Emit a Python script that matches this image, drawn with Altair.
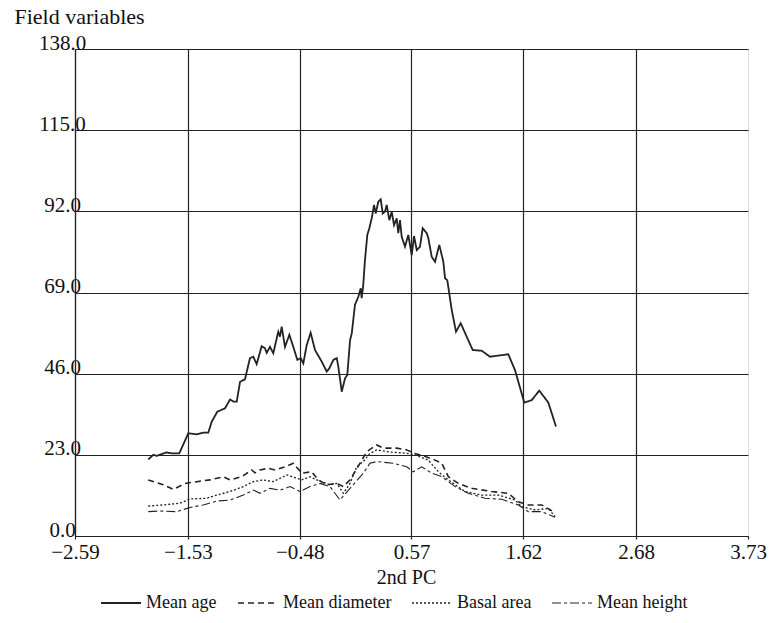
import altair as alt
import pandas as pd

series_names = ["Mean age", "Mean diameter", "Basal area", "Mean height"]

x_ticks = [-2.59, -1.53, -0.48, 0.57, 1.62, 2.68, 3.73]
y_ticks = [0.0, 23.0, 46.0, 69.0, 92.0, 115.0, 138.0]

age_x = [-1.902, -1.855, -1.823, -1.776, -1.729, -1.682, -1.611, -1.526, -1.447, -1.385,
         -1.338, -1.306, -1.254, -1.181, -1.134, -1.103, -1.071, -1.040, -0.994, -0.947,
         -0.916, -0.884, -0.837, -0.806, -0.790, -0.759, -0.728, -0.681, -0.665, -0.649,
         -0.618, -0.577, -0.540, -0.502, -0.470, -0.446, -0.414, -0.377, -0.336, -0.273,
         -0.226, -0.202, -0.164, -0.132, -0.117, -0.085, -0.054, -0.033, -0.007, 0.009,
         0.039, 0.071, 0.093, 0.102, 0.117, 0.133, 0.155, 0.174, 0.196, 0.218,
         0.234, 0.258, 0.281, 0.300, 0.321, 0.337, 0.362, 0.384, 0.406, 0.431,
         0.446, 0.462, 0.478, 0.509, 0.540, 0.572, 0.594, 0.619, 0.650, 0.675,
         0.713, 0.728, 0.760, 0.791, 0.831, 0.869, 0.885, 0.906, 0.948, 0.988,
         1.032, 1.088, 1.145, 1.229, 1.307, 1.479, 1.542, 1.629, 1.699, 1.770,
         1.855, 1.927]
age_y = [21.7, 23.0, 22.7, 23.2, 23.7, 23.4, 23.4, 29.1, 28.8, 29.3,
         29.3, 32.4, 35.2, 36.2, 38.7, 38.1, 38.1, 43.7, 44.4, 50.4,
         50.8, 48.7, 53.8, 53.2, 51.9, 53.6, 51.8, 57.9, 56.5, 59.3,
         53.6, 57.0, 53.6, 49.9, 50.4, 48.9, 54.1, 57.6, 52.7, 49.4,
         46.6, 47.5, 49.9, 50.4, 48.0, 40.9, 44.7, 45.6, 55.5, 57.4,
         65.5, 67.8, 70.2, 67.4, 71.1, 78.2, 85.3, 87.2, 90.0, 93.8,
         91.4, 94.7, 95.4, 91.4, 91.9, 93.8, 89.5, 91.9, 88.1, 90.0,
         85.8, 89.5, 84.8, 82.0, 85.3, 79.6, 85.0, 81.0, 82.0, 87.2,
         85.8, 84.4, 79.1, 77.7, 82.5, 77.7, 73.0, 72.5, 64.0, 57.9,
         60.3, 56.5, 52.7, 52.5, 50.8, 51.5, 47.0, 37.8, 38.5, 41.2,
         37.8, 31.0]

diam_x = [-1.902, -1.761, -1.667, -1.557, -1.447, -1.322, -1.197, -1.134, -1.025, -0.931,
          -0.900, -0.853, -0.775, -0.712, -0.618, -0.540, -0.461, -0.367, -0.305, -0.226,
          -0.132, -0.070, -0.007, 0.086, 0.149, 0.243, 0.305, 0.431, 0.525, 0.603,
          0.700, 0.791, 0.854, 0.916, 1.010, 1.135, 1.323, 1.479, 1.573, 1.667,
          1.793, 1.902]
diam_y = [15.9, 14.5, 13.2, 14.9, 15.4, 15.9, 16.8, 15.9, 16.8, 18.7,
          17.9, 18.7, 19.2, 18.7, 19.6, 20.6, 17.8, 18.2, 15.9, 14.5,
          14.9, 14.0, 15.9, 20.6, 23.9, 25.8, 24.9, 24.9, 24.4, 23.4,
          22.5, 21.5, 20.6, 16.8, 14.9, 13.5, 12.6, 12.1, 9.7, 8.8,
          8.8, 6.9]

ba_x = [-1.902, -1.761, -1.604, -1.510, -1.353, -1.259, -1.134, -1.009, -0.916, -0.822,
        -0.728, -0.602, -0.508, -0.461, -0.383, -0.320, -0.195, -0.132, -0.070, -0.007,
        0.055, 0.117, 0.180, 0.243, 0.368, 0.509, 0.603, 0.728, 0.822, 0.916,
        1.072, 1.229, 1.385, 1.542, 1.605, 1.730, 1.855, 1.918]
ba_y = [8.5, 8.8, 9.3, 10.5, 10.7, 11.6, 12.6, 14.0, 15.4, 15.9,
        15.4, 17.3, 16.4, 15.9, 16.8, 15.9, 14.5, 14.9, 12.1, 14.9,
        19.6, 21.1, 23.4, 24.4, 23.8, 23.5, 23.0, 21.5, 18.2, 15.9,
        12.6, 11.6, 11.6, 10.2, 8.3, 7.4, 7.8, 5.5]

ht_x = [-1.902, -1.792, -1.635, -1.510, -1.385, -1.259, -1.134, -1.009, -0.916, -0.853,
        -0.759, -0.665, -0.571, -0.477, -0.383, -0.289, -0.195, -0.101, -0.007, 0.117,
        0.180, 0.243, 0.399, 0.525, 0.587, 0.666, 0.760, 0.854, 0.979, 1.103,
        1.260, 1.417, 1.573, 1.667, 1.793, 1.918]
ht_y = [6.9, 7.1, 6.9, 8.1, 8.8, 9.9, 10.2, 11.6, 13.0, 12.1,
        13.5, 13.0, 14.0, 12.6, 14.0, 14.9, 14.0, 10.2, 13.5, 17.8,
        20.6, 21.1, 20.6, 19.6, 18.2, 19.6, 17.8, 16.8, 14.0, 12.1,
        10.7, 10.4, 8.8, 6.9, 6.9, 5.3]

frames = []
for name, xs, ys in [("Mean age", age_x, age_y), ("Mean diameter", diam_x, diam_y),
                     ("Basal area", ba_x, ba_y), ("Mean height", ht_x, ht_y)]:
    frames.append(pd.DataFrame({"pc": xs, "value": ys, "series": name}))
df = pd.concat(frames, ignore_index=True)

FONT = "Liberation Serif"
INK = "#222222"

chart = alt.Chart(df).mark_line(color=INK).encode(
    x=alt.X("pc:Q",
            scale=alt.Scale(domain=[-2.59, 3.73], nice=False, zero=False),
            axis=alt.Axis(values=x_ticks, format=".2f", grid=True,
                          gridColor=INK, gridWidth=1.2,
                          gridOpacity={"condition": {"test": "datum.value > 3.7", "value": 0}, "value": 1},
                          domainColor=INK, domainWidth=1.2,
                          tickColor=INK, tickSize=3, tickWidth=1.2,
                          labelFont=FONT, labelFontSize=21, labelColor="#111",
                          labelBaseline="alphabetic", labelPadding=19,
                          labelFlush=False, labelOverlap=False,
                          title="2nd PC", titleFont=FONT, titleFontSize=20,
                          titleFontWeight="normal", titleColor="#111",
                          titleX=331, titleY=47, titleBaseline="alphabetic",
                          titleAlign="center")),
    y=alt.Y("value:Q",
            scale=alt.Scale(domain=[0, 138], nice=False, zero=True),
            axis=alt.Axis(values=y_ticks, format=".1f", grid=True,
                          gridColor=INK, gridWidth=1.2,
                          domainColor=INK, domainWidth=1.2,
                          tickSize=0,
                          labelFont=FONT, labelFontSize=21, labelColor="#111",
                          labelAlign="center", labelBaseline="alphabetic",
                          labelPadding=13, labelOverlap=False,
                          title="Field variables", titleFont=FONT, titleFontSize=22,
                          titleFontWeight="normal", titleColor="#111",
                          titleAngle=0, titleAlign="left", titleBaseline="alphabetic",
                          titleX=-61, titleY=-26)),
    strokeDash=alt.StrokeDash("series:N",
                              scale=alt.Scale(domain=series_names,
                                              range=[[1, 0], [6, 4], [2, 2], [9, 3, 3, 3]]),
                              legend=alt.Legend(orient="none", legendX=25, legendY=533,
                                                direction="horizontal", title=None,
                                                symbolType="stroke", symbolSize=1600,
                                                symbolStrokeColor=INK, symbolStrokeWidth=1.3,
                                                labelFont=FONT, labelFontSize=18,
                                                labelColor="#111", labelOffset=4,
                                                columnPadding=17, padding=0,
                                                labelLimit=300)),
    strokeWidth=alt.StrokeWidth("series:N",
                                scale=alt.Scale(domain=series_names, range=[1.8, 1.1, 1.1, 1.1]),
                                legend=None),
).properties(
    width=673, height=487,
    padding={"left": 75, "top": 49, "right": 22, "bottom": 87},
    autosize=alt.AutoSizeParams(type="none"),
).configure_view(strokeWidth=0).configure(background="white")

chart.save("out.html", embed_options={"renderer": "svg", "actions": False})
